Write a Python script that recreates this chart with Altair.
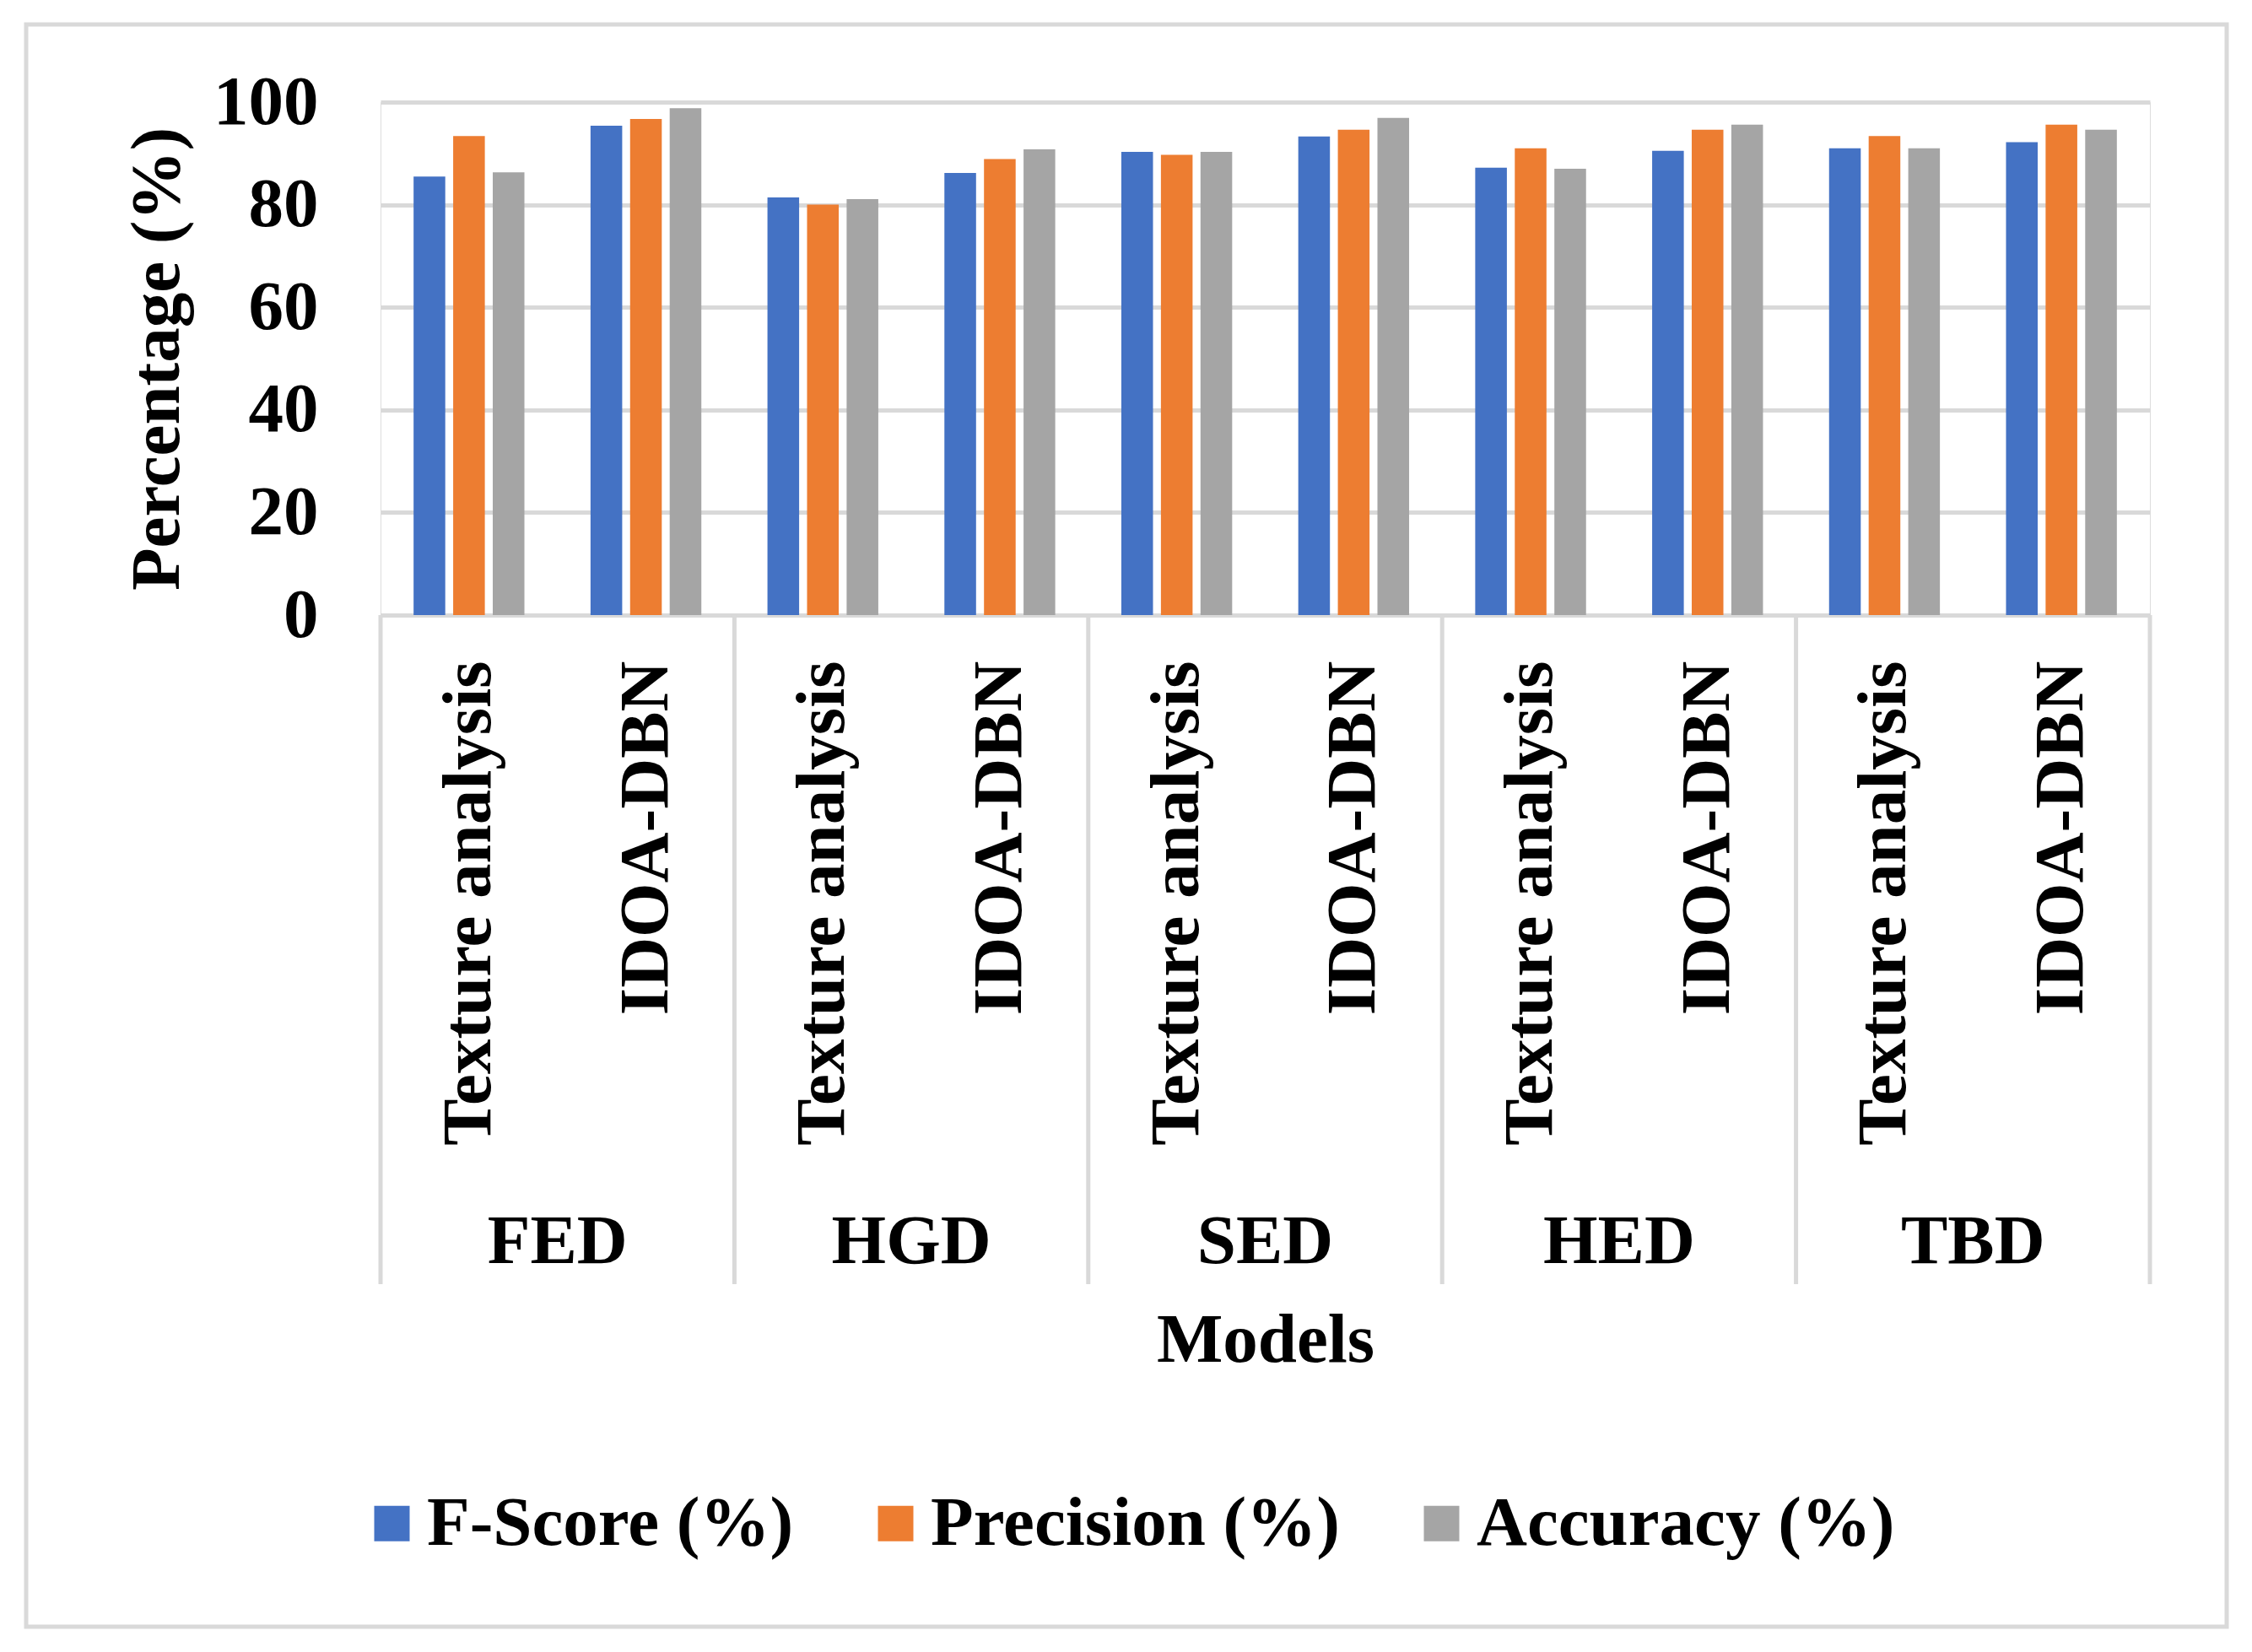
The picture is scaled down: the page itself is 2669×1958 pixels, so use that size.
import altair as alt
import pandas as pd

groups = ["FED", "HGD", "SED", "HED", "TBD"]
models = ["Texture analysis", "IDOA-DBN"]
series = ["F-Score (%)", "Precision (%)", "Accuracy (%)"]
colors = ["#4472C4", "#ED7D31", "#A5A5A5"]

fscore = [85.5, 95.4, 81.4, 86.2, 90.3, 93.3, 87.2, 90.5, 91.0, 92.2]
precision = [93.4, 96.7, 80.0, 88.9, 89.7, 94.6, 91.0, 94.6, 93.4, 95.6]
accuracy = [86.3, 98.8, 81.1, 90.8, 90.3, 96.9, 87.0, 95.6, 91.0, 94.6]
y_ticks = [0, 20, 40, 60, 80, 100]

cats = [f"{g}|{m}" for g in groups for m in models]
rows = []
for i, c in enumerate(cats):
    for s, vals in zip(series, [fscore, precision, accuracy]):
        rows.append({"cat": c, "series": s, "value": vals[i]})
df = pd.DataFrame(rows)

sep_df = pd.DataFrame({"cat": cats[0::2]})
sep_end_df = pd.DataFrame({"cat": [cats[-1]]})
grp_df = pd.DataFrame({"cat": cats[1::2], "group": groups})
frame_df = pd.DataFrame({"k": [0]})

W, H = 2097, 608
FONT = "Liberation Serif"
GRID = "#d9d9d9"
FS = 83

xscale = alt.Scale(domain=cats, paddingInner=0, paddingOuter=0)
xaxis = alt.Axis(
    title="Models", labelExpr="split(datum.value, '|')[1]",
    labelAngle=270, labelAlign="right", labelBaseline="middle",
    labelPadding=54, ticks=False, tickSize=0, labelOverlap=False,
    labelLimit=0, labelFont=FONT, labelFontSize=FS, labelFontWeight="bold",
    labelColor="black", domainColor=GRID, domainWidth=5, grid=False,
    titleY=884, titleBaseline="alphabetic", titleFont=FONT,
    titleFontSize=FS, titleFontWeight="bold", titleColor="black",
)

bars = alt.Chart(df).mark_bar().encode(
    x=alt.X("cat:N", scale=xscale, sort=cats, axis=xaxis, title="Models"),
    xOffset=alt.XOffset("series:N", sort=series,
                        scale=alt.Scale(domain=series, paddingInner=0.2, paddingOuter=0.835)),
    y=alt.Y(
        "value:Q", scale=alt.Scale(domain=[0, 100]),
        axis=alt.Axis(
            values=y_ticks, title="Percentage (%)", labelFont=FONT, labelFontSize=FS,
            labelFontWeight="bold", labelColor="black", labelPadding=74,
            ticks=False, tickSize=0, domain=False, gridColor=GRID, gridWidth=5,
            titleX=-240, titleY=H / 2, titleAngle=270, titleBaseline="alphabetic",
            titleFont=FONT, titleFontSize=FS, titleFontWeight="bold", titleColor="black",
        ),
    ),
    color=alt.Color(
        "series:N", sort=series, scale=alt.Scale(domain=series, range=colors),
        legend=alt.Legend(
            title=None, orient="none", legendX=-28, legendY=1643,
            direction="horizontal", columns=3, symbolType="square",
            symbolSize=1764, symbolStrokeWidth=0, labelFont=FONT, labelFontSize=FS,
            labelFontWeight="bold", labelColor="black", labelOffset=0,
            columnPadding=79, padding=0, labelLimit=0,
        ),
    ),
)

seps = alt.Chart(sep_df).mark_rule(color=GRID, strokeWidth=5).encode(
    x=alt.X("cat:N", bandPosition=0, scale=xscale, sort=cats, axis=xaxis, title="Models"),
    y=alt.value(H), y2=alt.value(1401),
)
sep_end = alt.Chart(sep_end_df).mark_rule(color=GRID, strokeWidth=5).encode(
    x=alt.X("cat:N", bandPosition=1, scale=xscale, sort=cats, axis=xaxis, title="Models"),
    y=alt.value(H), y2=alt.value(1401),
)
grp_text = alt.Chart(grp_df).mark_text(
    font=FONT, fontSize=FS, fontWeight="bold", baseline="alphabetic",
    align="center", color="black",
).encode(
    x=alt.X("cat:N", bandPosition=0, scale=xscale, sort=cats, axis=xaxis, title="Models"),
    y=alt.value(1376), text="group:N",
)
frame = alt.Chart(frame_df).mark_rect(filled=False, stroke=GRID, strokeWidth=5).encode(
    x=alt.value(-420), x2=alt.value(2188), y=alt.value(-92), y2=alt.value(1807),
)

chart = alt.layer(frame, bars, seps, sep_end, grp_text).properties(
    width=W, height=H,
    padding={"left": 20, "top": 18, "right": 10, "bottom": 10},
).configure_view(strokeWidth=0).configure(background="white")

chart.save("out.html", embed_options={"renderer": "svg", "actions": False})
